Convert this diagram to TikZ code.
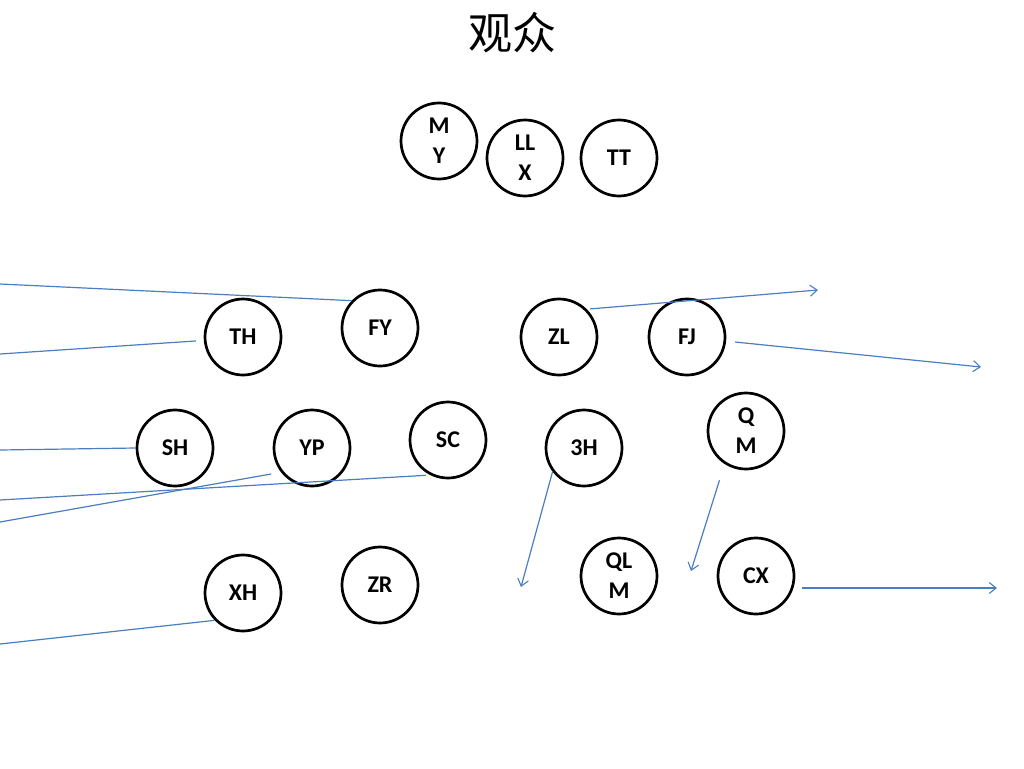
\documentclass[tikz,border=0pt]{standalone}
\usepackage{fontspec}
\setmainfont{Carlito}
\newfontfamily\cjk{Noto Sans CJK SC}
\usetikzlibrary{arrows.meta}
\definecolor{linkblue}{RGB}{74,126,193}
\tikzset{
  person/.style={circle,draw=black,line width=2.7pt,minimum size=76pt,inner sep=0pt,
    align=center,font=\fontsize{24}{30}\selectfont\bfseries},
  link/.style={draw=linkblue,line width=1.2pt},
  arr/.style={link,-{Straight Barb[length=7pt,width=11pt,line width=1.1pt]}}
}
\begin{document}
\begin{tikzpicture}[x=1pt,y=-1pt]
\useasboundingbox (0,0) rectangle (1024,768);
\node (title) at (512,33) {\cjk\fontsize{44}{44}\selectfont 观众};
% nodes
\node[person] (my)  at (439,141) {M\\Y};
\node[person] (llx) at (525,158) {LL\\X};
\node[person] (tt)  at (619,158) {TT};
\node[person] (fy)  at (380,328) {FY};
\node[person] (th)  at (243,337) {TH};
\node[person] (zl)  at (559,337) {ZL};
\node[person] (fj)  at (687,337) {FJ};
\node[person] (sh)  at (175,448) {SH};
\node[person] (yp)  at (312,448) {YP};
\node[person] (sc)  at (448,440) {SC};
\node[person] (h3)  at (584,448) {3H};
\node[person] (qm)  at (746,431) {Q\\M};
\node[person] (xh)  at (243,593) {XH};
\node[person] (zr)  at (380,585) {ZR};
\node[person] (qlm) at (619,576) {QL\\M};
\node[person] (cx)  at (756,576) {CX};
% free ends
\coordinate (fyL) at (0,284);
\coordinate (thL) at (0,354);
\coordinate (shL) at (0,450);
\coordinate (ypL) at (0,522);
\coordinate (scL) at (0,500);
\coordinate (xhL) at (0,644);
\coordinate (zlR) at (818,290);
\coordinate (fjR) at (981,367);
\coordinate (h3D) at (521,587);
\coordinate (qmD) at (691,571);
\coordinate (cxR) at (997,588);
% connectors
\draw[link] (fy.136) -- (fyL);
\draw[link,shorten <=8pt] (th.185) -- (thL);
\draw[link] (sh.180) -- (shL);
\draw[link,shorten <=10pt] (yp.218) -- (ypL);
\draw[link,shorten <=4pt] (sc.243) -- (scL);
\draw[link] (xh.224) -- (xhL);
\draw[arr,shorten <=3pt] (zl.45) -- (zlR);
\draw[arr,shorten <=9pt] (fj.354) -- (fjR);
\draw[arr] (h3.217) -- (h3D);
\draw[arr,shorten <=17pt] (qm.237) -- (qmD);
\draw[arr,shorten <=46pt] (cx.center |- cxR) -- (cxR);
\end{tikzpicture}
\end{document}
